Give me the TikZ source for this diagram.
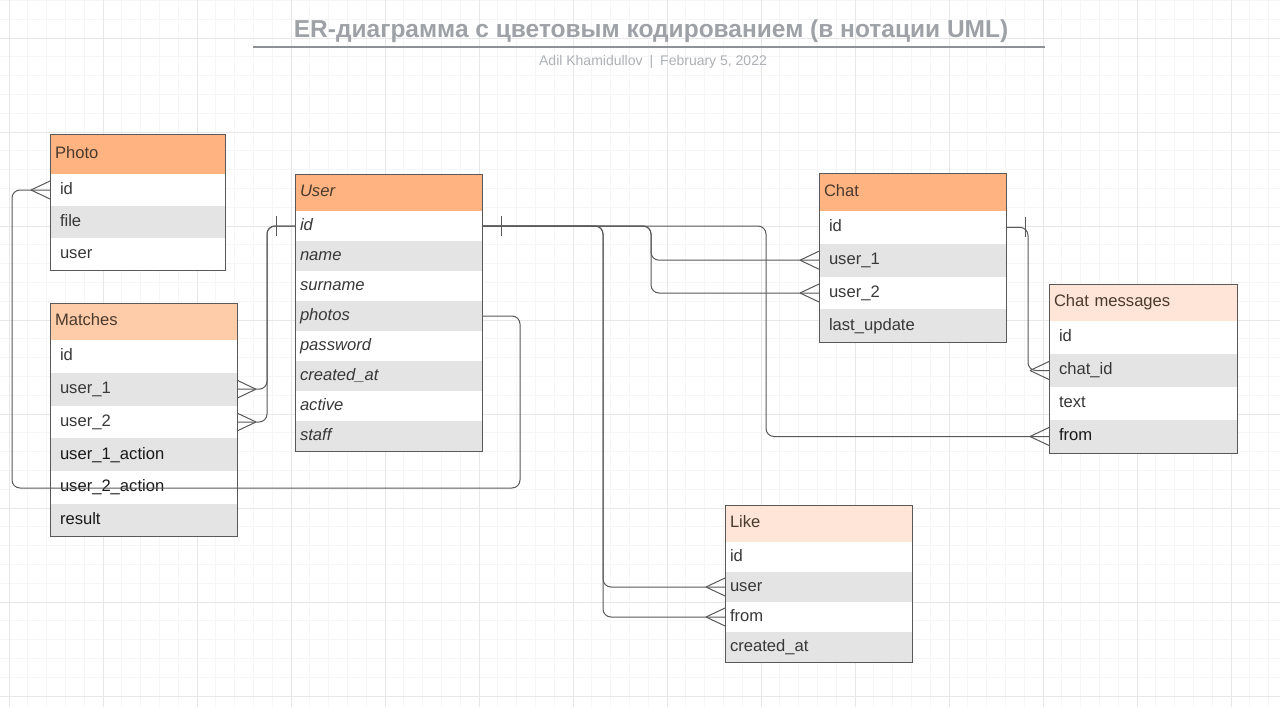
\documentclass[tikz,border=0pt]{standalone}
\usepackage{fontspec}
\setmainfont{Liberation Sans}
\usetikzlibrary{positioning}
\definecolor{edge}{HTML}{595959}
\definecolor{hdrdark}{HTML}{FFB381}
\definecolor{hdrmid}{HTML}{FFCCA9}
\definecolor{hdrlight}{HTML}{FFE5D7}
\definecolor{rowgray}{HTML}{E4E4E4}
\definecolor{ink}{HTML}{383838}
\definecolor{hdrink}{HTML}{4A3A2E}
\definecolor{titlegray}{HTML}{9EA2A7}
\definecolor{gridminor}{HTML}{F6F6F6}
\definecolor{gridmajor}{HTML}{E7E7E7}

\begin{document}
\begin{tikzpicture}[
  x=0.5pt, y=-0.5pt,
  hdr/.style={rectangle, draw=edge, line width=0.5pt, anchor=north west, outer sep=0pt, inner xsep=2.5pt, text width=88.5pt, minimum height=18.5pt, text height=6pt, text depth=1.7pt, font=\fontsize{8.3}{10}\selectfont, text=hdrink},
  cell/.style={rectangle, outer sep=0pt, inner xsep=5pt, text width=83.5pt, text height=6pt, text depth=1.7pt, font=\fontsize{8.3}{10}\selectfont, text=ink, fill=white},
  grey/.style={cell, fill=rowgray},
  frame/.style={draw=edge, line width=0.5pt},
  conn/.style={draw=edge, line width=0.5pt, rounded corners=4pt},
  many/.pic={\draw[conn] (-19,0) -- (0,-9) (-19,0) -- (0,9);},
  one/.pic={\draw[conn] (-19,-10) -- (-19,10);}
]
  \useasboundingbox (0,0) rectangle (1280,707);
  \fill[white] (0,0) rectangle (1280,707);
  % grid
  \foreach \i in {0,...,67} \draw[gridminor, line width=0.5pt] ({9+18.8*\i},0) -- ({9+18.8*\i},707);
  \foreach \i in {0,...,37} \draw[gridminor, line width=0.5pt] (0,{0.4+18.8*\i}) -- (1280,{0.4+18.8*\i});
  \foreach \i in {0,...,13} \draw[gridmajor, line width=0.5pt] ({9+94*\i},0) -- ({9+94*\i},707);
  \foreach \i in {0,...,7} \draw[gridmajor, line width=0.5pt] (0,{38+94*\i}) -- (1280,{38+94*\i});

  % title
  \node[font=\bfseries\fontsize{12.25}{14}\selectfont, text=titlegray] (title) at (651,31) {ER-диаграмма с цветовым кодированием (в нотации UML)};
  \draw[titlegray!90!black, line width=1.2pt] (253,47) -- (1045,47);
  \node[font=\fontsize{7}{8}\selectfont, text=titlegray!85] (byline) at (653,62) {Adil Khamidullov\hspace{3.5pt}|\hspace{3.5pt}February 5, 2022};

  % Photo
  \begin{scope}[cell/.append style={minimum height=16pt, text width=77.5pt}]
    \node[hdr, fill=hdrdark, minimum height=20pt, text width=82.5pt] (photo) at (50,134) {Photo};
    \node[cell, below=0pt of photo] (photo-id) {id};
    \node[grey, below=0pt of photo-id] (photo-file) {file};
    \node[cell, below=0pt of photo-file] (photo-user) {user};
  \end{scope}
  \draw[frame] (photo.north west) rectangle (photo-user.south east);

  % Matches
  \begin{scope}[cell/.append style={minimum height=16.4pt}]
    \node[hdr, fill=hdrmid] (match) at (50,303) {Matches};
    \node[cell, below=0pt of match] (match-id) {id};
    \node[grey, below=0pt of match-id] (match-u1) {user\_1};
    \node[cell, below=0pt of match-u1] (match-u2) {user\_2};
    \node[grey, below=0pt of match-u2, text=black!90] (match-a1) {user\_1\_action};
    \node[cell, below=0pt of match-a1, text=black!90] (match-a2) {user\_2\_action};
    \node[grey, below=0pt of match-a2, text=black!90] (match-res) {result};
  \end{scope}
  \draw[frame] (match.north west) rectangle (match-res.south east);

  % User
  \begin{scope}[cell/.append style={minimum height=15pt, inner xsep=2.5pt, text width=88.5pt, font=\fontsize{8.3}{10}\selectfont\itshape}]
    \node[hdr, fill=hdrdark, font=\fontsize{8.3}{10}\selectfont\itshape] (user) at (295,174) {User};
    \node[cell, below=0pt of user] (user-id) {id};
    \node[grey, below=0pt of user-id] (user-name) {name};
    \node[cell, below=0pt of user-name] (user-sur) {surname};
    \node[grey, below=0pt of user-sur] (user-photos) {photos};
    \node[cell, below=0pt of user-photos] (user-pass) {password};
    \node[grey, below=0pt of user-pass] (user-created) {created\_at};
    \node[cell, below=0pt of user-created] (user-active) {active};
    \node[grey, below=0pt of user-active] (user-staff) {staff};
  \end{scope}
  \draw[frame] (user.north west) rectangle (user-staff.south east);

  % Chat
  \begin{scope}[cell/.append style={minimum height=16.4pt}]
    \node[hdr, fill=hdrdark, minimum height=19pt] (chat) at (819,173) {Chat};
    \node[cell, below=0pt of chat] (chat-id) {id};
    \node[grey, below=0pt of chat-id] (chat-u1) {user\_1};
    \node[cell, below=0pt of chat-u1] (chat-u2) {user\_2};
    \node[grey, below=0pt of chat-u2] (chat-upd) {last\_update};
  \end{scope}
  \draw[frame] (chat.north west) rectangle (chat-upd.south east);

  % Chat messages
  \begin{scope}[cell/.append style={minimum height=16.5pt, text width=84pt}]
    \node[hdr, fill=hdrlight, text width=89pt] (msg) at (1049,284) {Chat messages};
    \node[cell, below=0pt of msg] (msg-id) {id};
    \node[grey, below=0pt of msg-id] (msg-chat) {chat\_id};
    \node[cell, below=0pt of msg-chat] (msg-text) {text};
    \node[grey, below=0pt of msg-text, text=black!90] (msg-from) {from};
  \end{scope}
  \draw[frame] (msg.north west) rectangle (msg-from.south east);

  % Like
  \begin{scope}[cell/.append style={minimum height=15pt, inner xsep=2.5pt, text width=88.5pt}]
    \node[hdr, fill=hdrlight] (like) at (725,505) {Like};
    \node[cell, below=0pt of like] (like-id) {id};
    \node[grey, below=0pt of like-id] (like-user) {user};
    \node[cell, below=0pt of like-user] (like-from) {from};
    \node[grey, below=0pt of like-from] (like-created) {created\_at};
  \end{scope}
  \draw[frame] (like.north west) rectangle (like-created.south east);

  % relations
  \draw[conn] (user-id.west) -- ++(-28,0) |- (match-u1.east);
  \draw[conn] (user-id.west) -- ++(-28,0) |- (match-u2.east);
  \draw[conn] (user-id.east) -- ++(121,0) |- (like-user.west);
  \draw[conn] (user-id.east) -- ++(121,0) |- (like-from.west);
  \draw[conn] (user-id.east) -- ++(169,0) |- (chat-u1.west);
  \draw[conn] (user-id.east) -- ++(169,0) |- (chat-u2.west);
  \draw[conn] (user-id.east) -- ++(284,0) |- (msg-from.west);
  \draw[conn] (user-photos.east) -- ++(38,0) -- ++(0,172) -- ++(-508,0) |- (photo-id.west);
  \draw[conn] (chat-id.east) -- ++(22,0) |- (msg-chat.west);

  \pic at (user-id.west) {one};
  \pic[xscale=-1] at (user-id.east) {one};
  \pic[xscale=-1.05] at (chat-id.east) {one};
  \pic[xscale=-1] at (match-u1.east) {many};
  \pic[xscale=-1] at (match-u2.east) {many};
  \pic at (photo-id.west) {many};
  \pic at (chat-u1.west) {many};
  \pic at (chat-u2.west) {many};
  \pic at (like-user.west) {many};
  \pic at (like-from.west) {many};
  \pic at (msg-chat.west) {many};
  \pic at (msg-from.west) {many};
\end{tikzpicture}
\end{document}
